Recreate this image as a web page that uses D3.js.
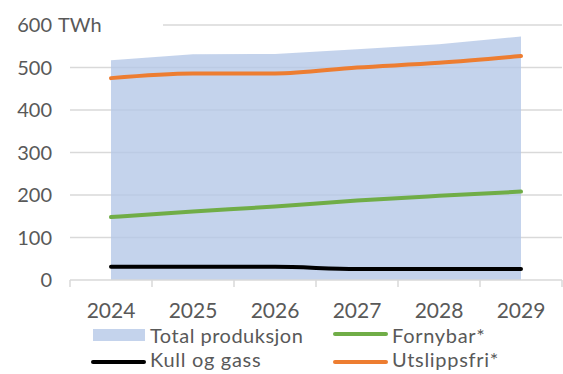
<!DOCTYPE html>
<html>
<head>
<meta charset="utf-8">
<script src="https://cdn.jsdelivr.net/npm/d3@7"></script>
<style>
  html, body { margin: 0; padding: 0; background: #fff; }
  svg { display: block; }
  text { font-family: Lato, "Open Sans", sans-serif; fill: #595959; }
</style>
</head>
<body>
<svg id="chart" width="563" height="374"></svg>
<script>
// Electricity production outlook, TWh
const years = ["2024", "2025", "2026", "2027", "2028", "2029"];
const totalProduksjon = [517, 531, 532, 543, 555, 573];
const utslippsfri = [475, 486, 486, 500, 511, 527];
const fornybar = [148, 161, 173, 187, 198, 208];
const kullOgGass = [31, 31, 31, 26, 26, 26];
const yTicks = [0, 100, 200, 300, 400, 500, 600];
const unit = "TWh";

const svg = d3.select("#chart");

const x = d3.scaleBand().domain(years).range([70, 562]).padding(0);
const y = d3.scaleLinear().domain([0, 600]).range([280, 25]);
const cx = d => x(d) + x.bandwidth() / 2;

// horizontal gridlines
svg.append("g").selectAll("line")
  .data(yTicks.filter(t => t > 0))
  .join("line")
  .attr("x1", t => t === 600 ? 163 : 70)
  .attr("x2", 562)
  .attr("y1", t => y(t)).attr("y2", t => y(t))
  .attr("stroke", "#d9d9d9").attr("stroke-width", 1.5);

// total production as a translucent area
const area = d3.area()
  .x((d, i) => cx(years[i]))
  .y0(y(0))
  .y1(d => y(d));
svg.append("path")
  .datum(totalProduksjon)
  .attr("d", area)
  .attr("fill", "#b4c7e7")
  .attr("fill-opacity", 0.78);

// x axis: baseline and band boundary ticks
svg.append("line")
  .attr("x1", 70).attr("x2", 562)
  .attr("y1", y(0)).attr("y2", y(0))
  .attr("stroke", "#d9d9d9").attr("stroke-width", 1.5);
svg.append("g").selectAll("line")
  .data(years.concat(["end"]))
  .join("line")
  .attr("x1", (d, i) => i < years.length ? x(d) : x.range()[1])
  .attr("x2", (d, i) => i < years.length ? x(d) : x.range()[1])
  .attr("y1", y(0)).attr("y2", y(0) + 7)
  .attr("stroke", "#d9d9d9").attr("stroke-width", 1.5);

svg.append("g").selectAll("text")
  .data(years)
  .join("text")
  .attr("x", d => cx(d))
  .attr("y", 318)
  .attr("text-anchor", "middle")
  .style("font-size", "21px")
  .text(d => d);

// y tick labels
svg.append("g").selectAll("text")
  .data(yTicks)
  .join("text")
  .attr("x", 52)
  .attr("y", t => y(t) + 7)
  .attr("text-anchor", "end")
  .style("font-size", "20px")
  .text(t => t);
svg.append("text")
  .attr("x", 58)
  .attr("y", y(600) + 7)
  .style("font-size", "20px")
  .text(unit);

// series lines
const line = d3.line()
  .x((d, i) => cx(years[i]))
  .y(d => y(d))
  .curve(d3.curveMonotoneX);

const series = [
  { name: "Kull og gass", values: kullOgGass, color: "#000000" },
  { name: "Fornybar*", values: fornybar, color: "#70ad47" },
  { name: "Utslippsfri*", values: utslippsfri, color: "#ed7d31" }
];

svg.append("g").selectAll("path")
  .data(series)
  .join("path")
  .attr("d", s => line(s.values))
  .attr("fill", "none")
  .attr("stroke", s => s.color)
  .attr("stroke-width", 4)
  .attr("stroke-linecap", "round")
  .attr("stroke-linejoin", "round");

// legend
const legend = svg.append("g");
legend.append("rect")
  .attr("x", 93).attr("y", 329).attr("width", 52).attr("height", 12)
  .attr("fill", "#b4c7e7").attr("fill-opacity", 0.78);
legend.append("text")
  .attr("x", 150).attr("y", 343)
  .style("font-size", "20px").style("letter-spacing", "0.5px")
  .text("Total produksjon");

const legendLines = [
  { s: series[0], x: 93, y: 362, ty: 367 },
  { s: series[1], x: 335, y: 334, ty: 343 },
  { s: series[2], x: 335, y: 362, ty: 367 }
];
legendLines.forEach(d => {
  legend.append("line")
    .attr("x1", d.x).attr("x2", d.x + 51)
    .attr("y1", d.y).attr("y2", d.y)
    .attr("stroke", d.s.color).attr("stroke-width", 4)
    .attr("stroke-linecap", "round");
  legend.append("text")
    .attr("x", d.x + 57).attr("y", d.ty)
    .style("font-size", "20px").style("letter-spacing", "0.7px")
    .text(d.s.name);
});
</script>
</body>
</html>
